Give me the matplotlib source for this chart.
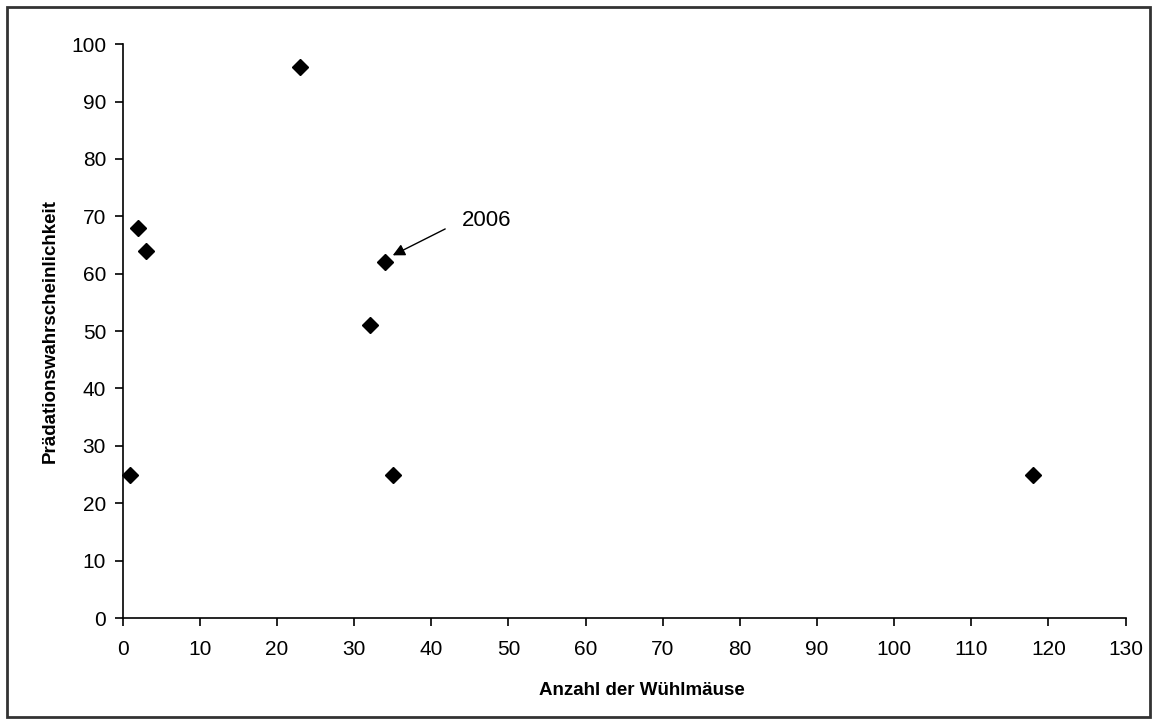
import matplotlib
matplotlib.use('Agg')
import matplotlib.pyplot as plt
from matplotlib.patches import Rectangle

plt.rcParams['font.family'] = ['Liberation Sans', 'DejaVu Sans']

wuehlmaeuse = [1, 2, 3, 23, 32, 34, 35, 118]
praedation = [25, 68, 64, 96, 51, 62, 25, 25]
x_ticks = list(range(0, 131, 10))
y_ticks = list(range(0, 101, 10))

fig = plt.figure(figsize=(11.58, 7.24), dpi=100)
ax = fig.add_axes([0.106, 0.1464, 0.866, 0.7926])

ax.plot(wuehlmaeuse, praedation, linestyle='none', marker='D', markersize=8.5,
        color='black', clip_on=False)

# Pfeil und Beschriftung für 2006
ax.annotate('', xy=(35.0, 63.2), xytext=(41.8, 67.8),
            arrowprops=dict(arrowstyle='-|>', color='black', lw=1,
                            mutation_scale=18, shrinkA=0, shrinkB=0))
ax.text(44.0, 69.2, '2006', fontsize=16, va='center', ha='left')

ax.set_xlim(0, 130)
ax.set_ylim(0, 100)
ax.set_xticks(x_ticks)
ax.set_yticks(y_ticks)
ax.tick_params(direction='out', length=6, width=1.2, labelsize=15)
ax.tick_params(axis='x', pad=10)
ax.tick_params(axis='y', pad=6)
ax.spines['top'].set_visible(False)
ax.spines['right'].set_visible(False)
ax.spines['left'].set_linewidth(1.2)
ax.spines['bottom'].set_linewidth(1.2)

ax.set_xlabel('Anzahl der Wühlmäuse', fontsize=13.5, fontweight='bold')
ax.xaxis.set_label_coords(0.518, -0.112)
ax.set_ylabel('Prädationswahrscheinlichkeit', fontsize=13.5, fontweight='bold', labelpad=8.5)

# Rahmen um die ganze Grafik
fig.patches.append(Rectangle((0.006, 0.01), 0.987, 0.98, transform=fig.transFigure,
                             fill=False, edgecolor='#333333', linewidth=2))

fig.savefig('out.png', dpi=100)
